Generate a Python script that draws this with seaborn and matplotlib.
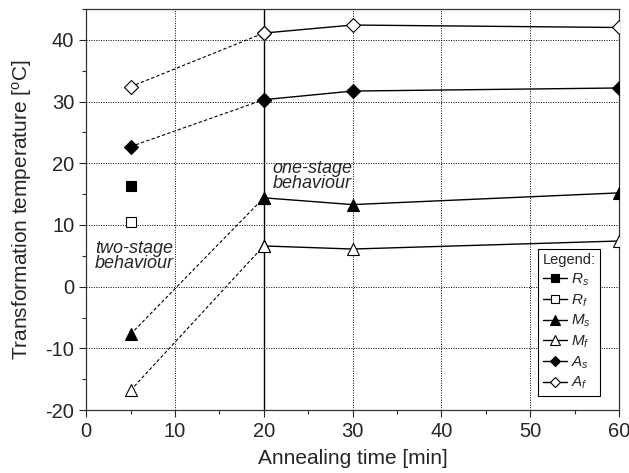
import matplotlib
matplotlib.use("Agg")
import matplotlib.pyplot as plt
from matplotlib.lines import Line2D
from matplotlib.ticker import MultipleLocator
import seaborn as sns
import pandas as pd

# annealing times [min]
t_two = [5, 20]
t_one = [20, 30, 60]

# transformation temperatures [oC]
Rs = [16.3]
Rf = [10.5]
Ms_two = [-7.7, 14.4]
Mf_two = [-16.8, 6.6]
As_two = [22.7, 30.3]
Af_two = [32.4, 41.1]
Ms_one = [14.4, 13.3, 15.2]
Mf_one = [6.6, 6.1, 7.4]
As_one = [30.3, 31.7, 32.2]
Af_one = [41.1, 42.4, 42.0]

labels = ["$R_s$", "$R_f$", "$M_s$", "$M_f$", "$A_s$", "$A_f$"]
markers = {"Rs": "s", "Rf": "s", "Ms": "^", "Mf": "^", "As": "D", "Af": "D"}
filled = {"Rs": True, "Rf": False, "Ms": True, "Mf": False, "As": True, "Af": False}

sns.set_style("white")
plt.rcParams["font.family"] = ["Liberation Sans", "DejaVu Sans"]
plt.rcParams["mathtext.fontset"] = "custom"
plt.rcParams["mathtext.it"] = "Liberation Sans:italic"
plt.rcParams["mathtext.rm"] = "Liberation Sans"
plt.rcParams["axes.unicode_minus"] = False

fig = plt.figure(figsize=(6.29, 4.73), dpi=100)
ax = fig.add_axes([0.137, 0.133, 0.847, 0.848])

def style(name, small=False):
    fc = "black" if filled[name] else "white"
    m = markers[name]
    ms = {"D": 7, "s": 7, "^": 8}[m]
    if small:
        ms -= 1.5
    return dict(marker=m, markersize=ms, markerfacecolor=fc,
                markeredgecolor="black", markeredgewidth=0.8, color="black")

two = {"Ms": Ms_two, "Mf": Mf_two, "As": As_two, "Af": Af_two}
one = {"Ms": Ms_one, "Mf": Mf_one, "As": As_one, "Af": Af_one}

for name, vals in two.items():
    df = pd.DataFrame({"t": t_two, "T": vals})
    sns.lineplot(data=df, x="t", y="T", ax=ax, linestyle=(0, (3, 2)),
                 linewidth=0.8, zorder=3, **style(name))
for name, vals in one.items():
    df = pd.DataFrame({"t": t_one, "T": vals})
    sns.lineplot(data=df, x="t", y="T", ax=ax, linewidth=1.0, zorder=3, **style(name))
for name, vals in {"Rs": Rs, "Rf": Rf}.items():
    df = pd.DataFrame({"t": [5], "T": vals})
    sns.lineplot(data=df, x="t", y="T", ax=ax, linewidth=0, zorder=3, **style(name))

ax.axvline(20, color="black", linewidth=1.0, zorder=2)

ax.set_xlim(0, 60)
ax.set_ylim(-20, 45)
ax.xaxis.set_major_locator(MultipleLocator(10))
ax.xaxis.set_minor_locator(MultipleLocator(5))
ax.yaxis.set_major_locator(MultipleLocator(10))
ax.yaxis.set_minor_locator(MultipleLocator(5))
ax.tick_params(which="major", direction="out", length=5, width=0.8,
               labelsize=14.5, bottom=True, left=True)
ax.tick_params(which="minor", direction="out", length=3, width=0.8,
               bottom=True, left=True)
ax.grid(True, which="major", linestyle=(0, (1, 1.5)), color="black", linewidth=0.7)
for s in ax.spines.values():
    s.set_linewidth(0.9)
    s.set_color("#333333")

ax.set_xlabel("Annealing time [min]", fontsize=15, labelpad=6)
ax.set_ylabel("Transformation temperature [$^{\\mathrm{o}}$C]", fontsize=15, labelpad=8)

ax.text(21.0, 20.6, "one-stage\nbehaviour", fontsize=13, style="italic",
        va="top", ha="left", linespacing=0.85)
ax.text(1.0, 7.6, "two-stage\nbehaviour", fontsize=13, style="italic",
        va="top", ha="left", linespacing=0.85)

names = ["Rs", "Rf", "Ms", "Mf", "As", "Af"]
handles = [Line2D([], [], linewidth=1.0, **style(n, small=True)) for n in names]
leg = ax.legend(handles, labels, title="Legend:", loc="lower right",
                bbox_to_anchor=(0.965, 0.035), fontsize=11, title_fontsize=10.5,
                frameon=True, fancybox=False, edgecolor="black", framealpha=1,
                handlelength=1.6, handletextpad=0.25, labelspacing=0.28,
                borderpad=0.3, borderaxespad=0)
leg.get_frame().set_linewidth(0.8)
leg._legend_box.align = "left"

fig.savefig("out.png", dpi=100)
